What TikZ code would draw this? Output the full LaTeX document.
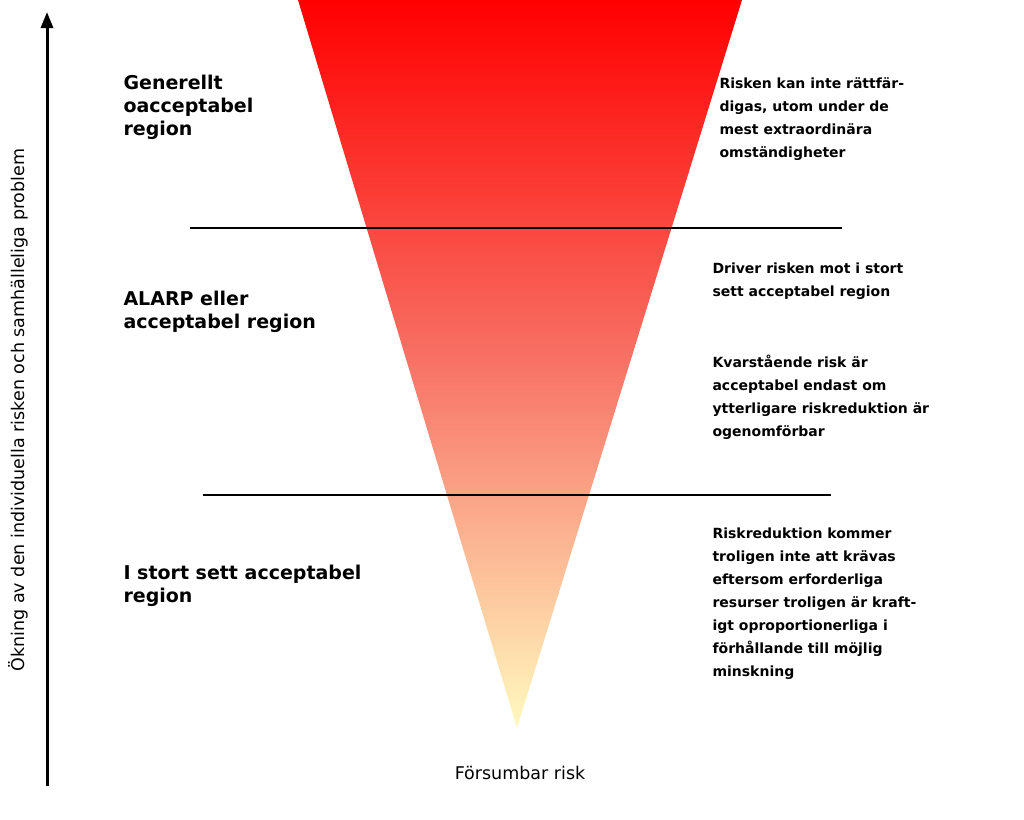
\documentclass[tikz,border=0pt]{standalone}
\usepackage{fontspec}
\setmainfont{DejaVu Sans}
\usetikzlibrary{arrows.meta}
\definecolor{midc}{rgb}{0.97,0.45,0.40}
\definecolor{botc}{rgb}{1,0.98,0.75}
\tikzset{
  lefttxt/.style={anchor=north west,align=left,font=\fontsize{19}{23}\selectfont\bfseries},
  righttxt/.style={anchor=north west,align=left,font=\fontsize{14}{23}\selectfont\bfseries},
  sep/.style={line width=1.2pt}
}
\begin{document}
\begin{tikzpicture}[x=1pt,y=-1pt]
\useasboundingbox (0,0) rectangle (1024,819);
\path[top color=red,bottom color=botc,middle color=midc,shading angle=0] (298,0) -- (742,0) -- (517,728) -- cycle;
\coordinate (l1a) at (190,228); \coordinate (l1b) at (842,228);
\coordinate (l2a) at (203,495); \coordinate (l2b) at (831,495);
\draw[sep] (l1a) -- (l1b);
\draw[sep] (l2a) -- (l2b);
\coordinate (ab) at (47,786); \coordinate (at) at (47,12);
\draw[line width=3pt,-{Triangle[length=16pt,width=12pt]}] (ab) -- (at);
\node[rotate=90,font=\fontsize{17.5}{20}\selectfont] (ax) at (18,410) {Ökning av den individuella risken och samhälleliga problem};
\node[font=\fontsize{17.5}{20}\selectfont] (neg) at (520,773) {Försumbar risk};
\node[lefttxt] (t1) at (120,72) {Generellt\\oacceptabel\\region};
\node[lefttxt] (t2) at (120,288) {ALARP eller\\acceptabel region};
\node[lefttxt] (t3) at (120,562) {I stort sett acceptabel\\region};
\node[righttxt] (r1) at (716,74) {Risken kan inte rättfär-\\digas, utom under de\\mest extraordinära\\omständigheter};
\node[righttxt] (r2) at (709,259) {Driver risken mot i stort\\sett acceptabel region};
\node[righttxt] (r3) at (709,352) {Kvarstående risk är\\acceptabel endast om\\ytterligare riskreduktion är\\ogenomförbar};
\node[righttxt] (r4) at (709,524) {Riskreduktion kommer\\troligen inte att krävas\\eftersom erforderliga\\resurser troligen är kraft-\\igt oproportionerliga i\\förhållande till möjlig\\minskning};
\end{tikzpicture}
\end{document}
